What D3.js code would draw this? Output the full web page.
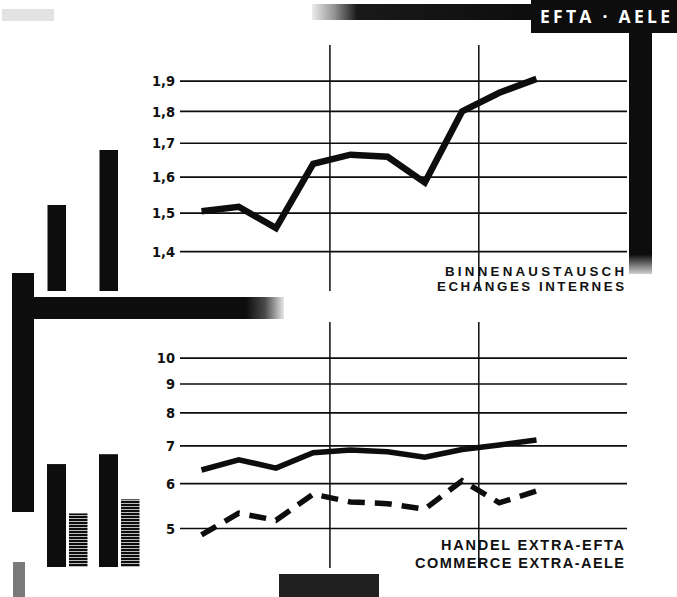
<!DOCTYPE html>
<html>
<head>
<meta charset="utf-8">
<script src="https://cdnjs.cloudflare.com/ajax/libs/d3/7.8.5/d3.min.js"></script>
<style>
  html, body { margin: 0; padding: 0; background: #fff; }
  #chart { width: 677px; height: 597px; }
  .tick text { font-family: "Liberation Sans Narrow", "DejaVu Sans Condensed", sans-serif; font-weight: bold; font-size: 14.5px; fill: #111; }
  .caption { font-family: "Liberation Sans", Arial, sans-serif; font-weight: 700; fill: #111; }
</style>
</head>
<body>
<div id="chart"></div>
<script>
// periods on the x axis (no labels printed in the original)
const periods = ["1959", "1960", "1961", "1962", "1963", "1964", "1965", "1966", "1967", "1968"];
// period boundaries drawn as vertical rules (in period index units)
const dividers = [3.45, 7.45];

// intra-EFTA trade
const internalTrade = [1.504, 1.516, 1.459, 1.637, 1.664, 1.658, 1.583, 1.798, 1.859, 1.906];
const internalTicks = [1.4, 1.5, 1.6, 1.7, 1.8, 1.9];

// extra-EFTA trade, solid and dashed series
const externalSolid = [6.33, 6.60, 6.38, 6.79, 6.87, 6.82, 6.67, 6.88, 7.01, 7.15];
const externalDashed = [4.86, 5.31, 5.16, 5.74, 5.56, 5.52, 5.40, 6.06, 5.54, 5.81];
const externalTicks = [5, 6, 7, 8, 9, 10];

// little pictogram bars at the left (relative heights)
const iconTop = [0.61, 1.0];
const iconBottomSolid = [0.73, 0.80];
const iconBottomHatched = [0.38, 0.48];

const Chart = (function(ns) {

    ns.state = {
        width: 677,
        height: 597,
        ink: "#0d0d0d",
        gridLeft: 180,
        gridRight: 627,
        gridWidth: 1.7,
        lineWidthTop: 6.5,
        lineWidthBottom: 5.5
    };

    ns.comma = function(v) { return String(v).replace(".", ","); };

    ns.gradient = function(defs, id, stops, vertical) {
        const g = defs.append("linearGradient").attr("id", id);
        if (vertical) g.attr("x1", 0).attr("y1", 0).attr("x2", 0).attr("y2", 1);
        stops.forEach(function(st) {
            g.append("stop").attr("offset", st[0])
                .attr("stop-color", ns.state.ink).attr("stop-opacity", st[1]);
        });
    };

    ns.init = function() {
        const s = ns.state;
        s.svg = d3.select("#chart").append("svg")
            .attr("width", s.width)
            .attr("height", s.height);

        const defs = s.svg.append("defs");
        // horizontal hatching for the grey pictogram bars
        const pat = defs.append("pattern")
            .attr("id", "hatch")
            .attr("patternUnits", "userSpaceOnUse")
            .attr("width", 6).attr("height", 3);
        pat.append("rect").attr("width", 6).attr("height", 3).attr("fill", s.ink);
        pat.append("rect").attr("y", 2).attr("width", 6).attr("height", 0.9).attr("fill", "#cfcfcf");

        // grainy ends of the frame bars
        ns.gradient(defs, "fadeLeft", [[0, 0.08], [0.1, 0.45], [0.2, 0.95], [1, 1]]);
        ns.gradient(defs, "fadeRight", [[0, 1], [0.86, 1], [0.93, 0.75], [1, 0.1]]);
        ns.gradient(defs, "fadeDown", [[0, 1], [0.92, 1], [1, 0.2]], true);

        s.x = d3.scaleLinear().domain([0, periods.length - 1]).range([201.5, 536.5]);
        s.yTop = d3.scaleLog().domain([1.4, 1.9]).range([251.2, 80.6]);
        s.yBot = d3.scaleLog().domain([5, 10]).range([528, 357.6]);
        s.icon = d3.scaleLinear().domain([0, 1]).range([0, 141]);
        return ns;
    };

    // black frame pieces of the original layout
    ns.drawFrame = function() {
        const s = ns.state;
        const g = s.svg.append("g").attr("class", "frame");
        // faint scan speck, top left
        g.append("rect").attr("x", 2).attr("y", 9).attr("width", 52).attr("height", 12).attr("fill", s.ink).attr("opacity", 0.12);
        // top bar running into the title box
        g.append("rect").attr("x", 312).attr("y", 4).attr("width", 225).attr("height", 16).attr("fill", "url(#fadeLeft)");
        // title box
        g.append("rect").attr("x", 531).attr("y", 0).attr("width", 146).attr("height", 33).attr("fill", s.ink);
        g.append("text")
            .attr("x", 605).attr("y", 23)
            .attr("text-anchor", "middle")
            .attr("textLength", 130).attr("lengthAdjust", "spacing")
            .style("font-family", "'Open Sans', 'DejaVu Sans', sans-serif")
            .style("font-weight", 700).style("font-size", "17.5px")
            .attr("fill", "#fff")
            .text("EFTA · AELE");
        // right vertical bar
        g.append("rect").attr("x", 629).attr("y", 30).attr("width", 23).attr("height", 244).attr("fill", "url(#fadeDown)");
        // left L piece
        g.append("rect").attr("x", 12).attr("y", 273).attr("width", 22).attr("height", 239).attr("fill", s.ink);
        g.append("rect").attr("x", 12).attr("y", 297).attr("width", 272).attr("height", 22).attr("fill", "url(#fadeRight)");
        // small grainy bits
        g.append("rect").attr("x", 13).attr("y", 562).attr("width", 12).attr("height", 35).attr("fill", s.ink).attr("opacity", 0.55);
        g.append("rect").attr("x", 279).attr("y", 574).attr("width", 100).attr("height", 23).attr("fill", s.ink).attr("opacity", 0.92);
        return ns;
    };

    ns.drawIcons = function() {
        const s = ns.state;
        const g = s.svg.append("g").attr("class", "icons");
        const topBase = 291, botBase = 567;

        g.selectAll(".icon-top").data(iconTop).enter().append("rect")
            .attr("class", "icon-top")
            .attr("x", function(d, i) { return 47.5 + i * 52; })
            .attr("y", function(d) { return topBase - s.icon(d); })
            .attr("width", 18.5)
            .attr("height", function(d) { return s.icon(d); })
            .attr("fill", s.ink);

        g.selectAll(".icon-solid").data(iconBottomSolid).enter().append("rect")
            .attr("class", "icon-solid")
            .attr("x", function(d, i) { return 47 + i * 52; })
            .attr("y", function(d) { return botBase - s.icon(d); })
            .attr("width", 19)
            .attr("height", function(d) { return s.icon(d); })
            .attr("fill", s.ink);

        g.selectAll(".icon-hatch").data(iconBottomHatched).enter().append("rect")
            .attr("class", "icon-hatch")
            .attr("x", function(d, i) { return 69 + i * 52; })
            .attr("y", function(d) { return botBase - s.icon(d); })
            .attr("width", 18.5)
            .attr("height", function(d) { return s.icon(d); })
            .attr("fill", "url(#hatch)");
        return ns;
    };

    // one panel: grid, dividers, series, two-line caption
    ns.drawPanel = function(y, ticks, top, bottom, series, captions, capSize) {
        const s = ns.state;
        const g = s.svg.append("g");

        const axis = d3.axisLeft(y)
            .tickValues(ticks)
            .tickSize(-(s.gridRight - s.gridLeft))
            .tickPadding(5)
            .tickFormat(ns.comma);
        const ag = g.append("g")
            .attr("transform", "translate(" + s.gridLeft + ",0)")
            .call(axis);
        ag.select(".domain").remove();
        ag.selectAll(".tick line").attr("stroke", s.ink).attr("stroke-width", s.gridWidth);
        ag.selectAll(".tick text").attr("dy", "0.36em");

        g.selectAll(".divider").data(dividers).enter().append("line")
            .attr("class", "divider")
            .attr("x1", function(d) { return s.x(d); })
            .attr("x2", function(d) { return s.x(d); })
            .attr("y1", top).attr("y2", bottom)
            .attr("stroke", s.ink).attr("stroke-width", 1.5);

        const line = d3.line()
            .x(function(d, i) { return s.x(i); })
            .y(function(d) { return y(d); });

        series.forEach(function(sr) {
            g.append("path")
                .datum(sr.values)
                .attr("d", line)
                .attr("fill", "none")
                .attr("stroke", s.ink)
                .attr("stroke-width", sr.width)
                .attr("stroke-linejoin", "miter")
                .attr("stroke-dasharray", sr.dash || null);
        });

        // German line over French line
        g.selectAll(".caption").data(captions).enter().append("text")
            .attr("class", "caption")
            .attr("x", 624)
            .attr("y", function(d) { return d.y; })
            .attr("text-anchor", "end")
            .style("font-size", capSize + "px")
            .attr("textLength", function(d) { return d.len; })
            .attr("lengthAdjust", "spacing")
            .text(function(d) { return d.text; });
        return ns;
    };

    ns.render = function() {
        const s = ns.init().state;
        ns.drawFrame();
        ns.drawIcons();
        ns.drawPanel(s.yTop, internalTicks, 45, 291,
            [{ values: internalTrade, width: s.lineWidthTop }],
            [{ text: "BINNENAUSTAUSCH", y: 276, len: 179 },
             { text: "ECHANGES INTERNES", y: 291, len: 187 }], 13.3);
        ns.drawPanel(s.yBot, externalTicks, 322, 568,
            [{ values: externalSolid, width: s.lineWidthBottom },
             { values: externalDashed, width: s.lineWidthBottom, dash: "17,10" }],
            [{ text: "HANDEL EXTRA-EFTA", y: 549.5, len: 183 },
             { text: "COMMERCE EXTRA-AELE", y: 567.5, len: 209 }], 14.5);
        return ns;
    };

    return ns;
})({});

Chart.render();
</script>
</body>
</html>
